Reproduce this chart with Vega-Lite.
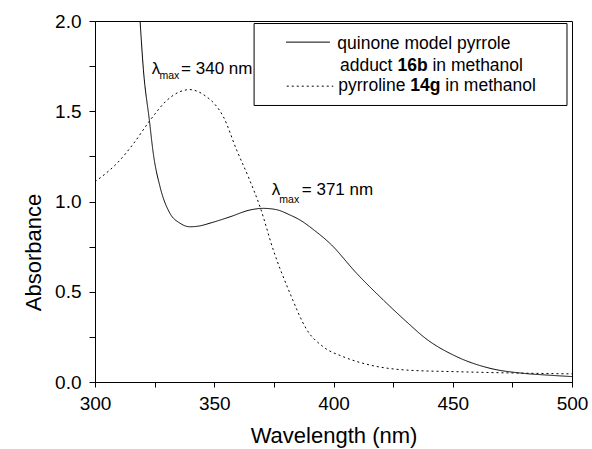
{
  "$schema": "https://vega.github.io/schema/vega-lite/v6.json",
  "width": 477,
  "height": 361,
  "autosize": {"type": "none"},
  "padding": {"left": 95, "top": 21, "right": 20, "bottom": 67},
  "background": "white",
  "config": {
    "font": "Liberation Sans",
    "view": {"stroke": "black", "strokeWidth": 1},
    "axis": {
      "domainColor": "black",
      "tickColor": "black",
      "labelColor": "black",
      "titleColor": "black",
      "grid": false,
      "ticks": true,
      "tickWidth": 1,
      "titleFontWeight": "normal",
      "labelFont": "Liberation Sans",
      "titleFont": "Liberation Sans"
    }
  },
  "datasets": {
    "curves": [
      {"series": "quinone model pyrrole adduct 16b in methanol", "x": 318.9, "y": 2.0},
      {"series": "quinone model pyrrole adduct 16b in methanol", "x": 320.3, "y": 1.73},
      {"series": "quinone model pyrrole adduct 16b in methanol", "x": 322.8, "y": 1.45},
      {"series": "quinone model pyrrole adduct 16b in methanol", "x": 324.4, "y": 1.27},
      {"series": "quinone model pyrrole adduct 16b in methanol", "x": 327.3, "y": 1.08},
      {"series": "quinone model pyrrole adduct 16b in methanol", "x": 331.4, "y": 0.935},
      {"series": "quinone model pyrrole adduct 16b in methanol", "x": 335.6, "y": 0.88},
      {"series": "quinone model pyrrole adduct 16b in methanol", "x": 339.8, "y": 0.86},
      {"series": "quinone model pyrrole adduct 16b in methanol", "x": 344.0, "y": 0.865},
      {"series": "quinone model pyrrole adduct 16b in methanol", "x": 348.2, "y": 0.88},
      {"series": "quinone model pyrrole adduct 16b in methanol", "x": 356.6, "y": 0.915},
      {"series": "quinone model pyrrole adduct 16b in methanol", "x": 365.0, "y": 0.953},
      {"series": "quinone model pyrrole adduct 16b in methanol", "x": 370.6, "y": 0.962},
      {"series": "quinone model pyrrole adduct 16b in methanol", "x": 376.0, "y": 0.955},
      {"series": "quinone model pyrrole adduct 16b in methanol", "x": 381.8, "y": 0.925},
      {"series": "quinone model pyrrole adduct 16b in methanol", "x": 386.0, "y": 0.897},
      {"series": "quinone model pyrrole adduct 16b in methanol", "x": 392.0, "y": 0.84},
      {"series": "quinone model pyrrole adduct 16b in methanol", "x": 398.5, "y": 0.768},
      {"series": "quinone model pyrrole adduct 16b in methanol", "x": 409.7, "y": 0.602},
      {"series": "quinone model pyrrole adduct 16b in methanol", "x": 420.9, "y": 0.454},
      {"series": "quinone model pyrrole adduct 16b in methanol", "x": 432.1, "y": 0.316},
      {"series": "quinone model pyrrole adduct 16b in methanol", "x": 437.7, "y": 0.251},
      {"series": "quinone model pyrrole adduct 16b in methanol", "x": 451.7, "y": 0.14},
      {"series": "quinone model pyrrole adduct 16b in methanol", "x": 465.6, "y": 0.076},
      {"series": "quinone model pyrrole adduct 16b in methanol", "x": 479.6, "y": 0.048},
      {"series": "quinone model pyrrole adduct 16b in methanol", "x": 490.0, "y": 0.038},
      {"series": "quinone model pyrrole adduct 16b in methanol", "x": 500.0, "y": 0.03},
      {"series": "pyrroline 14g in methanol", "x": 300.0, "y": 1.11},
      {"series": "pyrroline 14g in methanol", "x": 304.0, "y": 1.15},
      {"series": "pyrroline 14g in methanol", "x": 309.1, "y": 1.21},
      {"series": "pyrroline 14g in methanol", "x": 316.1, "y": 1.32},
      {"series": "pyrroline 14g in methanol", "x": 323.1, "y": 1.45},
      {"series": "pyrroline 14g in methanol", "x": 330.1, "y": 1.56},
      {"series": "pyrroline 14g in methanol", "x": 335.0, "y": 1.605},
      {"series": "pyrroline 14g in methanol", "x": 339.8, "y": 1.62},
      {"series": "pyrroline 14g in methanol", "x": 343.0, "y": 1.61},
      {"series": "pyrroline 14g in methanol", "x": 346.8, "y": 1.58},
      {"series": "pyrroline 14g in methanol", "x": 350.5, "y": 1.535},
      {"series": "pyrroline 14g in methanol", "x": 353.8, "y": 1.47},
      {"series": "pyrroline 14g in methanol", "x": 359.4, "y": 1.285},
      {"series": "pyrroline 14g in methanol", "x": 364.5, "y": 1.13},
      {"series": "pyrroline 14g in methanol", "x": 369.2, "y": 0.97},
      {"series": "pyrroline 14g in methanol", "x": 374.8, "y": 0.73},
      {"series": "pyrroline 14g in methanol", "x": 381.8, "y": 0.49},
      {"series": "pyrroline 14g in methanol", "x": 388.8, "y": 0.29},
      {"series": "pyrroline 14g in methanol", "x": 395.7, "y": 0.195},
      {"series": "pyrroline 14g in methanol", "x": 404.1, "y": 0.14},
      {"series": "pyrroline 14g in methanol", "x": 415.3, "y": 0.094},
      {"series": "pyrroline 14g in methanol", "x": 430.7, "y": 0.066},
      {"series": "pyrroline 14g in methanol", "x": 451.7, "y": 0.057},
      {"series": "pyrroline 14g in methanol", "x": 475.0, "y": 0.05},
      {"series": "pyrroline 14g in methanol", "x": 500.0, "y": 0.045}
    ],
    "annotMain": [
      {"x": 323.8, "y": 1.709, "t": "λ"},
      {"x": 336.1, "y": 1.709, "t": "= 340 nm"},
      {"x": 374.1, "y": 1.035, "t": "λ"},
      {"x": 386.7, "y": 1.035, "t": "= 371 nm"}
    ],
    "annotSub": [
      {"x": 327.0, "y": 1.676, "t": "max"},
      {"x": 377.3, "y": 0.993, "t": "max"}
    ],
    "legendBox": [
      {"x": 366.7, "x2": 497.9, "y": 1.986, "y2": 1.532}
    ],
    "legendLines": [
      {"series": "quinone model pyrrole adduct 16b in methanol", "x": 380.1, "y": 1.883},
      {"series": "quinone model pyrrole adduct 16b in methanol", "x": 398.5, "y": 1.883},
      {"series": "pyrroline 14g in methanol", "x": 380.4, "y": 1.639},
      {"series": "pyrroline 14g in methanol", "x": 399.9, "y": 1.639}
    ],
    "legendText": [
      {"x": 401.6, "y": 1.846, "t": "quinone model pyrrole"},
      {"x": 402.7, "y": 1.724, "t": "adduct"},
      {"x": 441.5, "y": 1.724, "t": "in methanol"},
      {"x": 402.0, "y": 1.611, "t": "pyrroline"},
      {"x": 446.9, "y": 1.611, "t": "in methanol"}
    ],
    "legendBold": [
      {"x": 426.8, "y": 1.724, "t": "16b"},
      {"x": 432.2, "y": 1.611, "t": "14g"}
    ]
  },
  "layer": [
    {
      "data": {"name": "curves"},
      "mark": {"type": "line", "interpolate": "monotone", "strokeWidth": 1, "color": "black"},
      "encoding": {
        "x": {
          "field": "x", "type": "quantitative",
          "scale": {"domain": [300, 500], "nice": false, "zero": false},
          "axis": {
            "title": "Wavelength (nm)",
            "titleFontSize": 22,
            "titlePadding": 12,
            "labelFontSize": 19,
            "values": [300, 325, 350, 375, 400, 425, 450, 475, 500],
            "format": "d",
            "labelExpr": "datum.value % 50 === 0 ? datum.label : ''",
            "tickSize": 5,
            "labelPadding": 7,
            "labelFlush": false
          }
        },
        "y": {
          "field": "y", "type": "quantitative",
          "scale": {"domain": [0, 2], "nice": false},
          "axis": {
            "title": "Absorbance",
            "titleFontSize": 22,
            "titlePadding": 9,
            "titleY": 231,
            "labelFontSize": 19,
            "values": [0, 0.25, 0.5, 0.75, 1, 1.25, 1.5, 1.75, 2],
            "format": ".1f",
            "labelExpr": "datum.value % 0.5 === 0 ? datum.label : ''",
            "tickSize": 6,
            "labelPadding": 8,
            "labelFlush": false
          }
        },
        "strokeDash": {
          "field": "series", "type": "nominal",
          "scale": {"domain": ["quinone model pyrrole adduct 16b in methanol", "pyrroline 14g in methanol"], "range": [[1, 0], [2, 3]]},
          "legend": null
        },
        "order": {"field": "x", "type": "quantitative"}
      }
    },
    {
      "data": {"name": "annotMain"},
      "mark": {"type": "text", "align": "left", "baseline": "alphabetic", "fontSize": 17, "color": "black"},
      "encoding": {
        "x": {"field": "x", "type": "quantitative"},
        "y": {"field": "y", "type": "quantitative"},
        "text": {"field": "t"}
      }
    },
    {
      "data": {"name": "annotSub"},
      "mark": {"type": "text", "align": "left", "baseline": "alphabetic", "fontSize": 10.5, "color": "black"},
      "encoding": {
        "x": {"field": "x", "type": "quantitative"},
        "y": {"field": "y", "type": "quantitative"},
        "text": {"field": "t"}
      }
    },
    {
      "data": {"name": "legendBox"},
      "mark": {"type": "rect", "fill": "white", "stroke": "black", "strokeWidth": 1},
      "encoding": {
        "x": {"field": "x", "type": "quantitative"},
        "x2": {"field": "x2"},
        "y": {"field": "y", "type": "quantitative"},
        "y2": {"field": "y2"}
      }
    },
    {
      "data": {"name": "legendLines"},
      "mark": {"type": "line", "strokeWidth": 1, "color": "black"},
      "encoding": {
        "x": {"field": "x", "type": "quantitative"},
        "y": {"field": "y", "type": "quantitative"},
        "strokeDash": {"field": "series", "type": "nominal", "legend": null}
      }
    },
    {
      "data": {"name": "legendText"},
      "mark": {"type": "text", "align": "left", "baseline": "alphabetic", "fontSize": 17.5, "color": "black"},
      "encoding": {
        "x": {"field": "x", "type": "quantitative"},
        "y": {"field": "y", "type": "quantitative"},
        "text": {"field": "t"}
      }
    },
    {
      "data": {"name": "legendBold"},
      "mark": {"type": "text", "align": "left", "baseline": "alphabetic", "fontSize": 17.5, "fontWeight": "bold", "color": "black"},
      "encoding": {
        "x": {"field": "x", "type": "quantitative"},
        "y": {"field": "y", "type": "quantitative"},
        "text": {"field": "t"}
      }
    }
  ]
}
